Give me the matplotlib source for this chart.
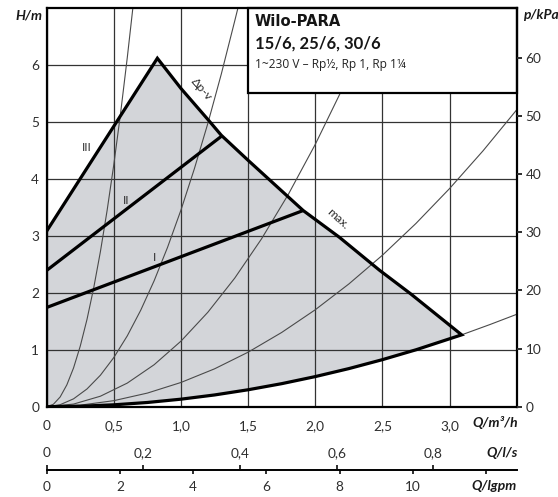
import numpy as np
import matplotlib
matplotlib.use("Agg")
import matplotlib.pyplot as plt
from matplotlib.patches import Rectangle

plt.rcParams['font.family'] = ['Lato', 'DejaVu Sans']

# ---------------- data ----------------
# x axis: flow Q in m3/h, y axis: head H in m
x_ticks = [0, 0.5, 1.0, 1.5, 2.0, 2.5, 3.0]
x_tick_labels = ['0', '0,5', '1,0', '1,5', '2,0', '2,5', '3,0']
y_ticks = [0, 1, 2, 3, 4, 5, 6]
kpa_ticks = [0, 10, 20, 30, 40, 50, 60]
ls_ticks = [0, 0.2, 0.4, 0.6, 0.8]
ls_tick_labels = ['0', '0,2', '0,4', '0,6', '0,8']
gpm_ticks = [0, 2, 4, 6, 8, 10, 12]
gpm_tick_labels = ['0', '2', '4', '6', '8', '10', '']

# speed curves I, II, III (Δp-v) : start and end points
q_I = [0.0, 1.91]
h_I = [1.74, 3.44]
q_II = [0.0, 1.30]
h_II = [2.39, 4.74]
q_III = [0.0, 0.824]
h_III = [3.08, 6.11]

# max curve from peak to the end point
q_max = [0.824, 1.00, 1.21, 1.30, 1.50, 1.91, 2.18, 2.48, 2.71, 3.09]
h_max = [6.11, 5.58, 5.01, 4.76, 4.32, 3.44, 2.97, 2.39, 1.98, 1.26]

# thin system curves
q_a = [0, 0.05, 0.10, 0.15, 0.20, 0.25, 0.30, 0.35, 0.40, 0.45, 0.50, 0.55, 0.60, 0.642]
h_a = [0, 0.043, 0.17, 0.383, 0.68, 1.063, 1.53, 2.083, 2.72, 3.443, 4.25, 5.143, 6.12, 7.0]
q_b = [0, 0.1, 0.2, 0.3, 0.4, 0.5, 0.6, 0.7, 0.8, 0.9, 1.0, 1.1, 1.2, 1.3, 1.4, 1.425]
h_b = [0, 0.035, 0.138, 0.311, 0.552, 0.863, 1.242, 1.691, 2.208, 2.795, 3.45, 4.175, 4.968, 5.831, 6.762, 7.0]
q_c = [0, 0.2, 0.4, 0.6, 0.8, 1.0, 1.2, 1.4, 1.6, 1.8, 2.0, 2.2, 2.47]
h_c = [0, 0.046, 0.184, 0.414, 0.736, 1.15, 1.656, 2.254, 2.944, 3.726, 4.6, 5.566, 7.0]
q_d = [0, 0.25, 0.5, 0.75, 1.0, 1.25, 1.5, 1.75, 2.0, 2.25, 2.5, 2.75, 3.0, 3.25, 3.5]
h_d = [0, 0.027, 0.106, 0.239, 0.425, 0.664, 0.956, 1.302, 1.70, 2.152, 2.656, 3.214, 3.825, 4.489, 5.206]
q_e = [0, 0.25, 0.5, 0.75, 1.0, 1.25, 1.5, 1.75, 2.0, 2.25, 2.5, 2.75, 3.09, 3.3, 3.5]
h_e = [0, 0.008, 0.033, 0.074, 0.132, 0.206, 0.297, 0.404, 0.528, 0.668, 0.825, 0.998, 1.26, 1.44, 1.62]
n_bottom = 12  # points of curve e below the end point that bound the field

# ---------------- figure ----------------
W, H = 558, 497
fig = plt.figure(figsize=(W / 100, H / 100), dpi=100)
L, R, T, B = 46.7, 516.7, 7.5, 406.7
ax = fig.add_axes([L / W, (H - B) / H, (R - L) / W, (B - T) / H])
ax.set_xlim(0, 3.5)
ax.set_ylim(0, 7)

FILL = '#d3d5d9'
THIN = '#4a4a4a'
TXT = '#2e2e2e'
TS = 9.8

# operating field
bq = q_e[:n_bottom][::-1]
bh = h_e[:n_bottom][::-1]
poly_q = [0.0] + q_III + q_max[1:] + bq
poly_h = [0.0] + h_III + h_max[1:] + bh
ax.fill(poly_q, poly_h, color=FILL, lw=0, zorder=1)

# grid
ax.set_xticks(x_ticks, labels=x_tick_labels)
ax.set_yticks(y_ticks)
ax.grid(True, color='#333333', lw=0.9, zorder=2)
ax.set_axisbelow(False)
for gl in ax.get_xgridlines() + ax.get_ygridlines():
    gl.set_zorder(2)

# thin system curves
for qq, hh in [(q_a, h_a), (q_b, h_b), (q_c, h_c), (q_d, h_d), (q_e, h_e)]:
    ax.plot(qq, hh, color=THIN, lw=0.8, zorder=3)

# thick curves
outline_q = q_III + q_max[1:] + bq
outline_h = h_III + h_max[1:] + bh
ax.plot(outline_q, outline_h, color='black', lw=2.3, zorder=4,
        solid_joinstyle='miter')
ax.plot(q_I, h_I, color='black', lw=2.3, zorder=4, solid_capstyle='butt')
ax.plot(q_II, h_II, color='black', lw=2.3, zorder=4, solid_capstyle='butt')

# curve labels
ax.text(0.298, 4.55, 'III', fontsize=8.5, color=TXT, ha='center', va='center', zorder=6)
ax.text(0.59, 3.62, 'II', fontsize=8.5, color=TXT, ha='center', va='center', zorder=6)
ax.text(0.80, 2.62, 'I', fontsize=8.5, color=TXT, ha='center', va='center', zorder=6)
ax.text(1.15, 5.56, 'Δp-v', fontsize=8.8, color=TXT, ha='center', va='center',
        rotation=-49, rotation_mode='anchor', zorder=6)
ax.text(2.17, 3.30, 'max.', fontsize=8.8, color=TXT, ha='center', va='center',
        rotation=-42, rotation_mode='anchor', zorder=6)

# title box
ax.add_patch(Rectangle((1.5, 5.5), 2.0, 1.5, fc='white', ec='black', lw=1.6,
                       zorder=5, clip_on=False))
ax.text(0.443, 0.9637, 'Wilo-PARA', transform=ax.transAxes, fontsize=10.6,
        fontweight='bold', family='DejaVu Sans', color='#151515',
        ha='left', va='center', zorder=6)
ax.text(0.443, 0.9086, '15/6, 25/6, 30/6', transform=ax.transAxes, fontsize=12,
        fontweight='bold', color='#151515', ha='left', va='center', zorder=6)
ax.text(0.443, 0.856, '1~230 V – Rp½, Rp 1, Rp 1¼', transform=ax.transAxes,
        fontsize=8.6, family=['Open Sans', 'DejaVu Sans'], color='#222222',
        ha='left', va='center', zorder=6)

# spines / ticks
for s in ax.spines.values():
    s.set_linewidth(1.6)
    s.set_zorder(7)
ax.tick_params(axis='both', length=0, labelsize=TS, colors=TXT)
ax.tick_params(axis='x', pad=9.5)
ax.tick_params(axis='y', pad=5.5)

# second and third flow scales
loc = (B - 469.5) / (B - T)
sec_ls = ax.secondary_xaxis(loc, functions=(lambda q: q / 3.6, lambda s: s * 3.6))
sec_ls.set_alignment('top')
sec_ls.set_xticks(ls_ticks, labels=ls_tick_labels)
sec_ls.tick_params(direction='out', length=3.2, width=1.4, pad=4.0, labelsize=TS, colors=TXT)
for s in sec_ls.spines.values():
    s.set_visible(False)

sec_g = ax.secondary_xaxis(loc, functions=(lambda q: q / 0.272765, lambda g: g * 0.272765))
sec_g.set_xticks(gpm_ticks, labels=gpm_tick_labels)
sec_g.tick_params(direction='out', length=3.2, width=1.4, pad=5.0, labelsize=TS, colors=TXT)
sec_g.spines['bottom'].set_linewidth(1.4)

# right axis: pressure in kPa (1 m = 9.81 kPa)
ax_r = ax.twinx()
ax_r.set_zorder(10)
ax_r.patch.set_visible(False)
ax_r.set_ylim(0, 7 * 9.81)
ax_r.set_yticks(kpa_ticks)
ax_r.tick_params(length=3.8, width=1.4, pad=2.5, labelsize=TS, colors=TXT)
for s in ax_r.spines.values():
    s.set_visible(False)

# unit labels
def ftext(x, y, s, ha):
    fig.text(x / W, 1 - y / H, s, ha=ha, va='center', fontsize=10,
             fontweight='bold', fontstyle='italic', color='#1a1a1a')

ftext(518, 422.7, 'Q/m³/h', 'right')
ftext(518, 453, 'Q/l/s', 'right')
ftext(517, 486, 'Q/lgpm', 'right')
ftext(42.7, 15, 'H/m', 'right')
ftext(523, 15, 'p/kPa', 'left')

fig.savefig('out.png', dpi=100, facecolor='white')
